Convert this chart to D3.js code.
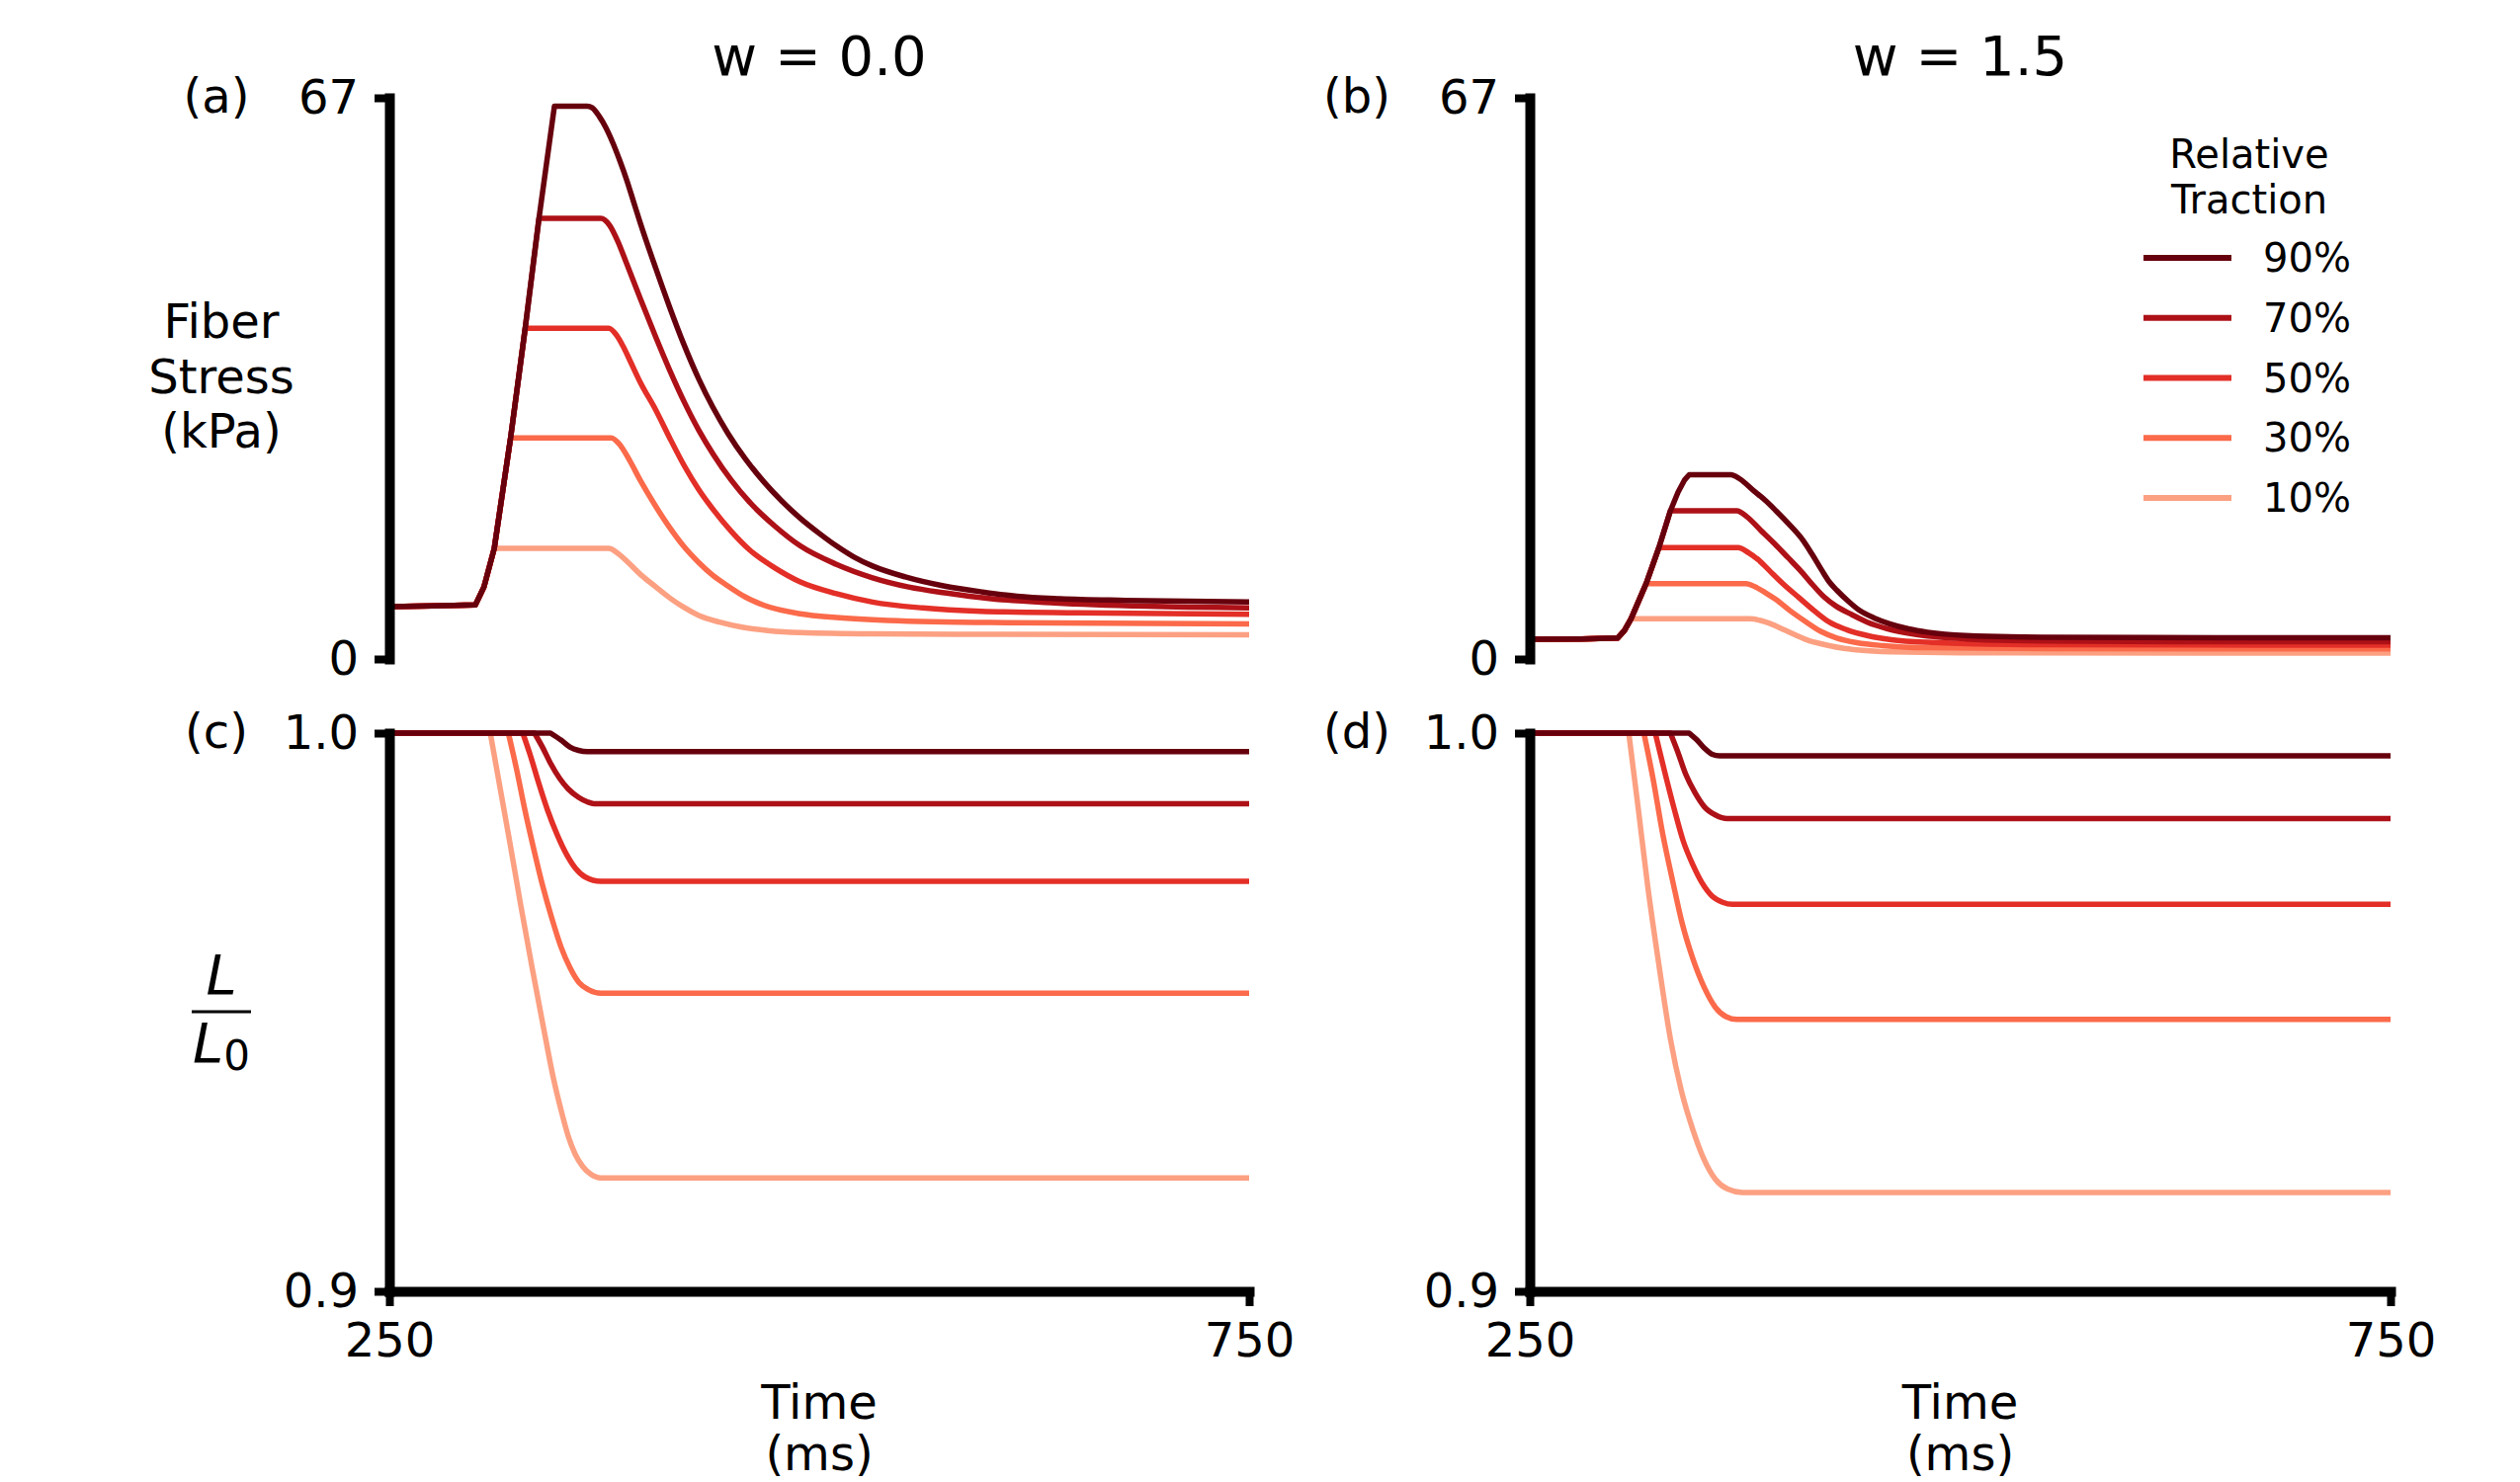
<!DOCTYPE html>
<html><head><meta charset="utf-8">
<script src="https://cdn.jsdelivr.net/npm/d3@7"></script>
<style>
body{margin:0;background:#fff}
svg{display:block}
text{font-family:"DejaVu Sans",sans-serif;fill:#000}
</style>
</head><body>
<svg id="chart" width="2550" height="1500"></svg>
<script>
// ---------------- DATA ----------------
const tractions = ["90%", "70%", "50%", "30%", "10%"];
const columnTitles = ["w = 0.0", "w = 1.5"];
const panelLetters = ["(a)", "(b)", "(c)", "(d)"];
const timeDomain = [250, 750];
const timeTicks = [250, 750];
const stressDomain = [0, 67];
const stressTicks = [0, 67];
const lengthDomain = [0.9, 1.0];
const lengthTicks = [0.9, 1.0];

// Fiber stress (kPa) vs time (ms), w = 0.0
const stressW0_90 = [[250,6.25],[275,6.35],[300,6.45],[305,8.6],[311,13.2],[320.5,26.4],[329,39.5],[337,52.6],[346,66.0],[365,66.0],[368,65.8],[372,64.8],[376,63.4],[380,61.6],[384,59.5],[388,57.2],[392,54.6],[396,52.0],[405,46.6],[413,42.0],[421,37.7],[430,33.4],[438,30.1],[447,26.9],[457,23.9],[468,21.1],[478,18.9],[489,16.8],[500,15.0],[510,13.5],[520,12.2],[531,11.1],[550,9.8],[573,8.7],[595,8.0],[615,7.5],[640,7.2],[678,7.0],[750,6.8]];
const stressW0_70 = [[250,6.25],[275,6.35],[300,6.45],[305,8.6],[311,13.2],[320.5,26.4],[329,39.5],[337,52.6],[373,52.6],[378,51.8],[383,49.8],[388,47.2],[396,43.0],[405,38.4],[413,34.5],[421.7,30.6],[430,27.3],[438.5,24.4],[449,21.3],[459.6,18.7],[474,15.9],[489,13.5],[510,11.3],[531,9.7],[552,8.6],[573,7.9],[600,7.2],[637,6.7],[690,6.3],[750,6.1]];
const stressW0_50 = [[250,6.25],[275,6.35],[300,6.45],[305,8.6],[311,13.2],[320.5,26.4],[329,39.5],[377.6,39.5],[382,38.7],[386,37.3],[390,35.6],[396,33.0],[405,29.7],[413,26.4],[421.7,23.0],[430,20.2],[438.5,17.8],[449,15.2],[459.6,13.0],[474,10.9],[489,9.2],[510,7.8],[531,6.8],[560,6.1],[594,5.7],[650,5.5],[750,5.35]];
const stressW0_30 = [[250,6.25],[275,6.35],[300,6.45],[305,8.6],[311,13.2],[320.5,26.4],[379,26.4],[384,25.6],[390,23.6],[396,21.3],[405,18.2],[413,15.7],[421,13.5],[430,11.5],[438,10.0],[447,8.7],[457,7.4],[468,6.4],[489,5.4],[510,4.95],[540,4.6],[600,4.35],[750,4.2]];
const stressW0_10 = [[250,6.25],[275,6.35],[300,6.45],[305,8.6],[311,13.2],[377.5,13.2],[383,12.6],[389,11.5],[396,10.1],[405,8.6],[413,7.3],[421,6.2],[430,5.2],[442,4.4],[455,3.8],[470,3.4],[489,3.15],[531,3.0],[600,2.95],[750,2.9]];

// Fiber stress (kPa) vs time (ms), w = 1.5
const stressW15_90 = [[250,2.35],[280,2.4],[301,2.5],[305,3.4],[308.8,4.8],[317.6,9.0],[325,13.3],[331.7,17.7],[336.1,19.9],[340,21.4],[342.6,22.0],[366.8,22.0],[372,21.5],[380,20.1],[387,18.9],[393,17.7],[401,16.0],[408.6,14.2],[414,12.5],[419.6,10.6],[424,9.2],[428.4,8.2],[435,6.9],[441.5,5.8],[450,4.9],[459,4.2],[470,3.6],[481,3.2],[503,2.8],[547,2.6],[650,2.55],[750,2.55]];
const stressW15_70 = [[250,2.35],[280,2.4],[301,2.5],[305,3.4],[308.8,4.8],[317.6,9.0],[325,13.3],[331.7,17.7],[370.3,17.7],[376,17.0],[384,15.4],[392,13.8],[400,12.1],[407,10.6],[415,8.7],[421,7.4],[428,6.3],[437,5.3],[446,4.4],[458,3.6],[472,3.0],[503,2.4],[547,2.15],[650,2.05],[750,2.05]];
const stressW15_50 = [[250,2.35],[280,2.4],[301,2.5],[305,3.4],[308.8,4.8],[317.6,9.0],[325,13.3],[371,13.3],[377,12.7],[383,11.8],[389,10.6],[397,9.0],[406.5,7.3],[415,5.8],[424,4.4],[434,3.5],[446,2.8],[460,2.3],[480,2.0],[547,1.7],[750,1.65]];
const stressW15_30 = [[250,2.35],[280,2.4],[301,2.5],[305,3.4],[308.8,4.8],[317.6,9.0],[375.6,9.0],[381,8.6],[387,7.9],[393,7.1],[401,5.8],[410.7,4.4],[419,3.3],[428.4,2.5],[440,1.95],[455,1.6],[480,1.35],[550,1.25],[750,1.2]];
const stressW15_10 = [[250,2.35],[280,2.4],[301,2.5],[305,3.4],[308.8,4.8],[377.8,4.8],[384,4.6],[390,4.2],[397.5,3.5],[405,2.8],[412,2.2],[419.6,1.8],[430,1.35],[441.5,1.05],[460,0.85],[500,0.75],[750,0.7]];

// Relative fiber length L/L0 vs time (ms), w = 0.0
const lengthW0_90 = [[250,1.0],[343.7,1.0],[350,0.9987],[355,0.9975],[360,0.9969],[365,0.99667],[750,0.99667]];
const lengthW0_70 = [[250,1.0],[334.4,1.0],[339,0.9975],[343.7,0.9946],[349,0.9919],[354,0.9900],[360,0.9885],[365,0.9877],[369,0.98735],[750,0.98735]];
const lengthW0_50 = [[250,1.0],[327.6,1.0],[332,0.9960],[337,0.9909],[342,0.9862],[347.6,0.9818],[353,0.9783],[358.2,0.9758],[364,0.9742],[373,0.97345],[750,0.97345]];
const lengthW0_30 = [[250,1.0],[319.2,1.0],[324,0.9935],[328.7,0.9864],[334,0.9792],[339.2,0.9726],[344.5,0.9668],[349.8,0.9617],[355,0.9580],[360.3,0.9553],[366,0.9540],[373,0.9534],[750,0.9534]];
const lengthW0_10 = [[250,1.0],[308.7,1.0],[314.5,0.9900],[320.3,0.9800],[326.5,0.9690],[333,0.9580],[339.3,0.9478],[345.6,0.9379],[350,0.9323],[354,0.9278],[358,0.9246],[362.5,0.92235],[367,0.9210],[373,0.9203],[750,0.9203]];

// Relative fiber length L/L0 vs time (ms), w = 1.5
const lengthW15_90 = [[250,1.0],[342.6,1.0],[347,0.9988],[351.4,0.9973],[356,0.9962],[360.2,0.99592],[750,0.99592]];
const lengthW15_70 = [[250,1.0],[331.7,1.0],[336,0.9966],[340.5,0.9927],[346,0.9893],[351.4,0.9868],[358,0.9853],[364.6,0.98468],[750,0.98468]];
const lengthW15_50 = [[250,1.0],[322.9,1.0],[328,0.9935],[333.9,0.9864],[339,0.9808],[344.9,0.9763],[350,0.9732],[355.9,0.9708],[362,0.9697],[367.7,0.96932],[750,0.96932]];
const lengthW15_30 = [[250,1.0],[316.3,1.0],[321.5,0.9920],[327.3,0.9818],[333,0.9735],[338.3,0.9662],[344.5,0.9598],[351.4,0.9544],[358,0.9508],[364,0.9492],[370.3,0.94870],[750,0.94870]];
const lengthW15_10 = [[250,1.0],[307.5,1.0],[313,0.9865],[318.5,0.9726],[325,0.9585],[331.7,0.9452],[338,0.9360],[344.9,0.9288],[351,0.9238],[358,0.9200],[365,0.9183],[373.4,0.9177],[750,0.9177]];

const stressW0 = [stressW0_90, stressW0_70, stressW0_50, stressW0_30, stressW0_10];
const stressW15 = [stressW15_90, stressW15_70, stressW15_50, stressW15_30, stressW15_10];
const lengthW0 = [lengthW0_90, lengthW0_70, lengthW0_50, lengthW0_30, lengthW0_10];
const lengthW15 = [lengthW15_90, lengthW15_70, lengthW15_50, lengthW15_30, lengthW15_10];

// ---------------- STYLE / LAYOUT ----------------
const colors = ["#67000d", "#ad1117", "#e32f27", "#fb6a4a", "#fca082"];
const FONT = "DejaVu Sans";
const colX = [[394, 1264], [1548, 2419]];
const topY = [667, 99];
const botY = [1307, 742];
const LINE_W = 5.5;

const svg = d3.select("#chart");

function seriesPath(x, y, pts, kind) {
  // linear for the sharp part (rise / flat start), monotone for the smooth rest
  let k;
  if (kind === "stress") {
    const m = d3.max(pts, d => d[1]);
    k = pts.findIndex(d => d[1] === m);
  } else {
    k = 0;
    pts.forEach((d, i) => { if (d[1] === 1.0) k = i; });
  }
  const lin = d3.line().x(d => x(d[0])).y(d => y(d[1])).curve(d3.curveLinear);
  const mono = d3.line().x(d => x(d[0])).y(d => y(d[1])).curve(d3.curveMonotoneX);
  const a = lin(pts.slice(0, k + 1));
  const b = mono(pts.slice(k));
  return a + b.replace(/^M/, "L");
}

function styleAxis(g) {
  g.attr("font-family", FONT).attr("font-size", 48);
  g.select(".domain").attr("stroke", "#000").attr("stroke-width", 10).attr("stroke-linecap", "square");
  g.selectAll(".tick line").attr("stroke", "#000").attr("stroke-width", 8);
  g.selectAll(".tick text").attr("fill", "#000");
}

function panel(col, row, data, kind) {
  const x = d3.scaleLinear().domain(timeDomain).range(colX[col]);
  const y = kind === "stress"
    ? d3.scaleLinear().domain(stressDomain).range(topY)
    : d3.scaleLinear().domain(lengthDomain).range(botY);
  const g = svg.append("g");

  // lines (lightest first so darkest is on top)
  for (let i = data.length - 1; i >= 0; i--) {
    g.append("path")
      .attr("d", seriesPath(x, y, data[i], kind))
      .attr("fill", "none")
      .attr("stroke", colors[i])
      .attr("stroke-width", LINE_W)
      .attr("stroke-linejoin", "round");
  }

  const yAxis = d3.axisLeft(y)
    .tickValues(kind === "stress" ? stressTicks : lengthTicks)
    .tickFormat(kind === "stress" ? d3.format("d") : d3.format(".1f"))
    .tickSize(15).tickSizeOuter(0).tickPadding(16);
  g.append("g").attr("transform", `translate(${colX[col][0]},0)`).call(yAxis).call(styleAxis);

  const cx = (colX[col][0] + colX[col][1]) / 2;
  if (kind === "length") {
    const xAxis = d3.axisBottom(x).tickValues(timeTicks).tickFormat(d3.format("d"))
      .tickSize(15).tickSizeOuter(0).tickPadding(17);
    g.append("g").attr("transform", `translate(0,${botY[0]})`).call(xAxis).call(styleAxis);
    g.append("text").attr("x", cx).attr("y", 1436).attr("text-anchor", "middle")
      .attr("font-size", 48).text("Time");
    g.append("text").attr("x", cx).attr("y", 1488).attr("text-anchor", "middle")
      .attr("font-size", 48).text("(ms)");
  } else {
    g.append("text").attr("x", cx).attr("y", 76).attr("text-anchor", "middle")
      .attr("font-size", 56).text(columnTitles[col]);
  }

  // panel letter
  const yl = (kind === "stress" ? topY[1] : botY[1]) + 15;
  g.append("text").attr("x", colX[col][0] - 175).attr("y", yl).attr("text-anchor", "middle")
    .attr("font-size", 48).text(panelLetters[row * 2 + col]);
}

panel(0, 0, stressW0, "stress");
panel(1, 0, stressW15, "stress");
panel(0, 1, lengthW0, "length");
panel(1, 1, lengthW15, "length");

// y-axis label, stress
["Fiber", "Stress", "(kPa)"].forEach((t, i) => {
  svg.append("text").attr("x", 224).attr("y", 342 + i * 55.5).attr("text-anchor", "middle")
    .attr("font-size", 48).text(t);
});

// y-axis label, L/L0
svg.append("text").attr("x", 224).attr("y", 1006).attr("text-anchor", "middle")
  .attr("font-size", 56).attr("font-style", "italic").text("L");
svg.append("line").attr("x1", 194).attr("x2", 254).attr("y1", 1024).attr("y2", 1024)
  .attr("stroke", "#000").attr("stroke-width", 3);
const l0 = svg.append("text").attr("x", 224).attr("y", 1075).attr("text-anchor", "middle").attr("font-size", 56);
l0.append("tspan").attr("font-style", "italic").text("L");
l0.append("tspan").attr("font-size", 42).attr("dy", 8).text("0");

// legend
const lg = svg.append("g");
["Relative", "Traction"].forEach((t, i) => {
  lg.append("text").attr("x", 2276).attr("y", 170 + i * 46).attr("text-anchor", "middle")
    .attr("font-size", 40).text(t);
});
tractions.forEach((t, i) => {
  const yy = 261 + i * 60.75;
  lg.append("line").attr("x1", 2169).attr("x2", 2258).attr("y1", yy).attr("y2", yy)
    .attr("stroke", colors[i]).attr("stroke-width", 6);
  lg.append("text").attr("x", 2290).attr("y", yy).attr("dominant-baseline", "central")
    .attr("font-size", 40).text(t);
});
</script>
</body></html>
